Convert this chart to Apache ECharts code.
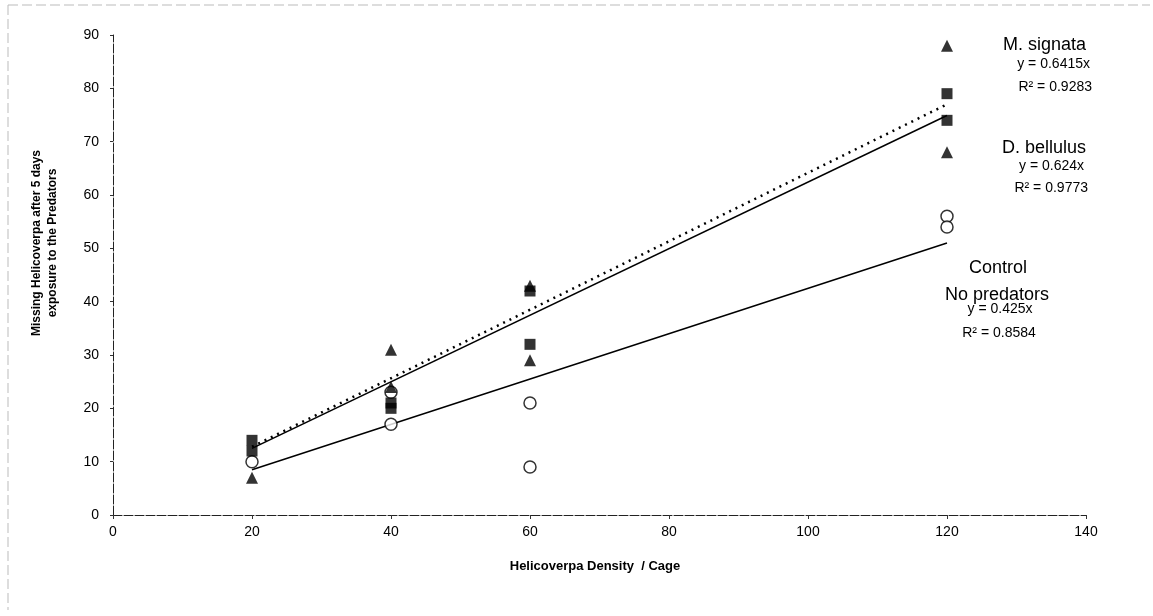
<!DOCTYPE html>
<html>
<head>
<meta charset="utf-8">
<script src="https://cdn.jsdelivr.net/npm/echarts@6/dist/echarts.min.js"></script>
<style>
html,body{margin:0;padding:0;background:#fff;}
#c{width:1153px;height:616px;}
</style>
</head>
<body>
<div id="c"></div>
<script>
// Data
const xTicks = [0, 20, 40, 60, 80, 100, 120, 140];
const yTicks = [0, 10, 20, 30, 40, 50, 60, 70, 80, 90];

const signataX = [20, 40, 40, 60, 60, 120, 120];
const signataY = [7, 31, 24, 43, 29, 88, 68];

const bellulusX = [20, 20, 40, 40, 60, 60, 120, 120];
const bellulusY = [14, 12, 21, 20, 42, 32, 79, 74];

const controlX = [20, 40, 40, 60, 60, 120, 120];
const controlY = [10, 23, 17, 21, 9, 56, 54];

const trendX = [20, 120];
const signataTrend = [12.8, 77.0];
const bellulusTrend = [12.5, 74.9];
const controlTrend = [8.5, 51.0];

const zip = (xs, ys) => xs.map((x, i) => [x, ys[i]]);

const FONT = 'Liberation Sans, Arial, sans-serif';
const chart = echarts.init(document.getElementById('c'), null, {renderer: 'canvas'});

function txt(x, y, s, size, align, weight) {
  return {
    type: 'text', x: x, y: y, z: 100,
    style: {text: s, font: (weight || 'normal') + ' ' + size + 'px ' + FONT,
      fill: '#000', textAlign: align || 'left', textVerticalAlign: 'middle'}
  };
}

chart.setOption({
  backgroundColor: '#fff',
  animation: false,
  grid: {left: 113, right: 67, top: 35, bottom: 101, containLabel: false},
  xAxis: {
    type: 'value', min: 0, max: 140, interval: 20,
    axisLine: {show: true, onZero: false, lineStyle: {color: '#222', width: 1, type: [9, 2]}},
    axisTick: {show: true, length: 4, lineStyle: {color: '#333'}},
    axisLabel: {color: '#000', fontSize: 14, fontFamily: FONT, margin: 10},
    splitLine: {show: false}
  },
  yAxis: {
    type: 'value', min: 0, max: 90, interval: 10,
    axisLine: {show: true, lineStyle: {color: '#222', width: 1, type: [9, 2]}},
    axisTick: {show: true, length: 3, lineStyle: {color: '#333'}},
    axisLabel: {color: '#000', fontSize: 14, fontFamily: FONT, margin: 14},
    splitLine: {show: false}
  },
  series: [
    {type: 'line', data: zip(trendX, signataTrend), symbol: 'none', z: 2,
      lineStyle: {color: '#000', width: 2.5, type: [2, 5]}},
    {type: 'line', data: zip(trendX, bellulusTrend), symbol: 'none', z: 2,
      lineStyle: {color: '#000', width: 1.5}},
    {type: 'line', data: zip(trendX, controlTrend), symbol: 'none', z: 2,
      lineStyle: {color: '#000', width: 1.5}},
    {type: 'scatter', name: 'Control', data: zip(controlX, controlY), symbol: 'circle', symbolSize: 12, z: 5,
      itemStyle: {color: '#fff', borderColor: '#000', borderWidth: 1.5}},
    {type: 'scatter', name: 'D. bellulus', data: zip(bellulusX, bellulusY), symbol: 'rect', symbolSize: 11, z: 6,
      itemStyle: {color: '#000'}},
    {type: 'scatter', name: 'M. signata', data: zip(signataX, signataY), symbol: 'triangle', symbolSize: 12, z: 7,
      itemStyle: {color: '#000'}}
  ],
  graphic: [
    // faint scan border
    {type: 'line', shape: {x1: 8, y1: 5, x2: 1150, y2: 5}, style: {stroke: '#bbb', lineWidth: 1, lineDash: [10, 4]}},
    {type: 'line', shape: {x1: 8, y1: 5, x2: 8, y2: 610}, style: {stroke: '#bbb', lineWidth: 1, lineDash: [10, 4]}},
    // axis titles
    {type: 'text', x: 37, y: 243, rotation: Math.PI / 2, z: 100,
      style: {text: 'Missing Helicoverpa after 5 days', font: 'bold 12px ' + FONT, fill: '#000',
        textAlign: 'center', textVerticalAlign: 'middle'}},
    {type: 'text', x: 53, y: 243, rotation: Math.PI / 2, z: 100,
      style: {text: 'exposure to the Predators', font: 'bold 12px ' + FONT, fill: '#000',
        textAlign: 'center', textVerticalAlign: 'middle'}},
    txt(595, 566, 'Helicoverpa Density  / Cage', 13, 'center', 'bold'),
    // annotations
    txt(1086, 45, 'M. signata', 18, 'right'),
    txt(1090, 64, 'y = 0.6415x', 14, 'right'),
    txt(1092, 87, 'R\u00b2 = 0.9283', 14, 'right'),
    txt(1086, 148, 'D. bellulus', 18, 'right'),
    txt(1084, 166, 'y = 0.624x', 14, 'right'),
    txt(1088, 188, 'R\u00b2 = 0.9773', 14, 'right'),
    txt(998, 268, 'Control', 18, 'center'),
    txt(997, 295, 'No predators', 18, 'center'),
    txt(1000, 309, 'y = 0.425x', 14, 'center'),
    txt(999, 333, 'R\u00b2 = 0.8584', 14, 'center')
  ]
});
</script>
</body>
</html>
